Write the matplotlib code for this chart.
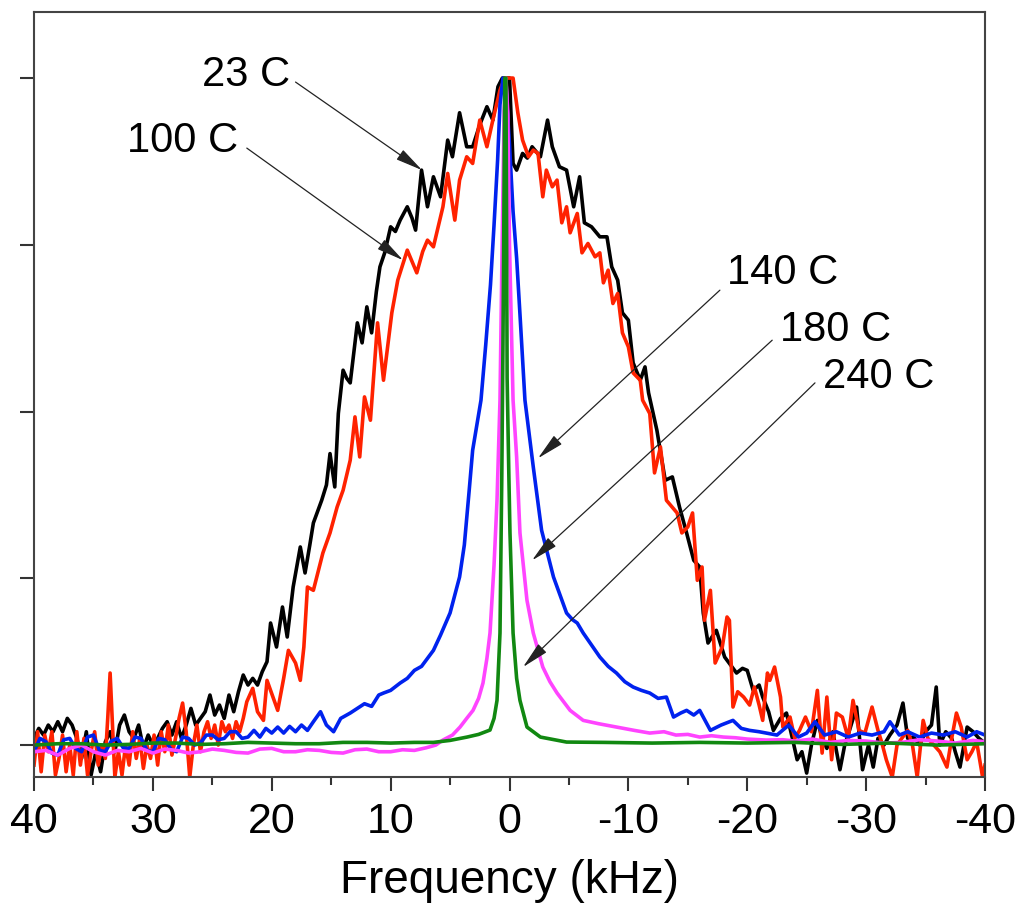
import numpy as np
from matplotlib import pyplot as plt

# espectros: (frequência kHz, intensidade normalizada)
black_pts = [
    (40.0, 0.010), (39.6, 0.025), (39.2, 0.015), (38.8, 0.030), (38.4, 0.020), (38.0, 0.035),
    (37.6, 0.020), (37.2, 0.040), (36.8, 0.030), (36.4, 0.010), (36.0, -0.020), (35.6, 0.020),
    (35.2, -0.045), (34.8, -0.010), (34.4, -0.040), (34.0, 0.005), (33.6, 0.020), (33.2, -0.010),
    (32.8, 0.030), (32.4, 0.045), (32.0, 0.020), (31.6, 0.010), (31.2, 0.030), (30.8, -0.005),
    (30.4, 0.015), (30.0, 0.000), (29.6, 0.010), (29.2, 0.025), (28.8, 0.035), (28.4, 0.015),
    (28.0, 0.035), (27.6, 0.010), (27.2, 0.030), (26.8, 0.055), (26.4, 0.030), (26.0, 0.040),
    (25.6, 0.050), (25.2, 0.075), (24.8, 0.045), (24.4, 0.060), (24.0, 0.040), (23.6, 0.075),
    (23.2, 0.050), (22.8, 0.080), (22.4, 0.105), (22.0, 0.090), (21.6, 0.100), (21.2, 0.090),
    (20.8, 0.110), (20.4, 0.125), (20.1, 0.183), (19.6, 0.147), (19.1, 0.207), (18.7, 0.162),
    (18.2, 0.237), (17.6, 0.297), (17.2, 0.258), (16.8, 0.300), (16.5, 0.333), (15.8, 0.367),
    (15.4, 0.390), (15.1, 0.437), (14.7, 0.387), (14.4, 0.497), (14.0, 0.562), (13.7, 0.550),
    (13.4, 0.543), (12.8, 0.633), (12.4, 0.603), (12.0, 0.657), (11.6, 0.618), (11.2, 0.680),
    (10.9, 0.717), (10.5, 0.738), (10.0, 0.777), (9.6, 0.770), (9.2, 0.787), (8.6, 0.807),
    (8.2, 0.790), (7.9, 0.772), (7.4, 0.862), (6.9, 0.807), (6.4, 0.852), (5.8, 0.822),
    (5.2, 0.907), (4.8, 0.882), (4.2, 0.948), (3.6, 0.897), (3.1, 0.897), (2.5, 0.930),
    (1.9, 0.957), (1.4, 0.937), (0.97, 0.987), (0.6, 1.000), (0.0, 1.000), (-0.3, 0.872),
    (-0.6, 0.862), (-1.1, 0.887), (-1.5, 0.880), (-1.9, 0.897), (-2.6, 0.882), (-3.2, 0.937),
    (-3.6, 0.897), (-4.2, 0.867), (-4.8, 0.862), (-5.4, 0.807), (-5.9, 0.852), (-6.3, 0.783),
    (-6.9, 0.777), (-7.6, 0.762), (-8.2, 0.762), (-8.6, 0.717), (-9.1, 0.697), (-9.5, 0.648),
    (-10.0, 0.637), (-10.4, 0.573), (-11.0, 0.547), (-11.4, 0.567), (-11.7, 0.528), (-12.4, 0.472),
    (-13.1, 0.397), (-13.7, 0.402), (-14.3, 0.357), (-14.9, 0.318), (-15.5, 0.277), (-16.0, 0.267),
    (-16.3, 0.198), (-16.7, 0.153), (-17.4, 0.172), (-18.1, 0.132), (-18.6, 0.120), (-19.1, 0.108),
    (-19.6, 0.115), (-20.0, 0.112), (-20.5, 0.082), (-21.0, 0.090), (-21.3, 0.072), (-21.8, 0.050),
    (-22.2, 0.022), (-22.8, 0.040), (-23.3, 0.048), (-23.8, 0.010), (-24.2, -0.022), (-24.6, -0.010),
    (-25.0, -0.042), (-25.4, 0.000), (-25.9, 0.037), (-26.3, 0.010), (-26.7, -0.005), (-27.2, 0.020),
    (-27.8, -0.037), (-28.2, 0.000), (-28.6, 0.022), (-29.2, 0.057), (-29.7, -0.037), (-30.2, 0.000),
    (-30.6, -0.033), (-31.0, 0.010), (-31.5, 0.000), (-32.0, 0.015), (-32.6, 0.030), (-33.1, 0.063),
    (-33.5, 0.010), (-34.0, 0.012), (-34.5, 0.000), (-35.0, 0.020), (-35.5, 0.030), (-35.9, 0.087),
    (-36.2, 0.000), (-36.7, 0.020), (-37.2, 0.010), (-37.5, -0.010), (-37.9, -0.033), (-38.5, 0.027),
    (-39.0, 0.020), (-39.5, 0.010), (-40.0, 0.003),
]

red_pts = [
    (40.0, -0.030), (39.7, 0.020), (39.4, -0.040), (39.1, 0.015), (38.8, -0.010), (38.5, 0.020),
    (38.2, -0.045), (37.9, -0.020), (37.6, 0.015), (37.3, -0.040), (37.0, 0.000), (36.7, -0.045),
    (36.4, 0.020), (36.1, -0.030), (35.8, 0.010), (35.5, -0.045), (35.2, -0.010), (34.9, 0.020),
    (34.6, -0.030), (34.3, 0.000), (34.0, -0.020), (33.8, 0.040), (33.6, 0.108), (33.4, 0.030),
    (33.2, -0.048), (32.9, -0.010), (32.6, -0.045), (32.3, 0.000), (32.0, -0.030), (31.7, 0.020),
    (31.4, -0.020), (31.1, 0.010), (30.8, -0.035), (30.5, 0.000), (30.2, -0.020), (29.9, 0.015),
    (29.6, -0.030), (29.3, 0.020), (29.0, -0.010), (28.7, 0.030), (28.4, -0.015), (28.1, 0.010),
    (27.8, 0.040), (27.5, 0.063), (27.2, 0.020), (26.9, -0.048), (26.6, 0.000), (26.3, 0.030),
    (26.0, -0.010), (25.7, 0.020), (25.4, 0.035), (25.1, 0.010), (24.8, 0.030), (24.5, 0.000),
    (24.2, 0.035), (23.9, 0.020), (23.6, 0.030), (23.3, 0.010), (23.0, 0.035), (22.7, 0.020),
    (22.4, 0.040), (22.1, 0.065), (21.6, 0.085), (21.2, 0.050), (20.7, 0.037), (20.4, 0.097),
    (19.9, 0.072), (19.5, 0.052), (19.0, 0.100), (18.6, 0.142), (18.0, 0.123), (17.6, 0.097),
    (17.3, 0.147), (17.0, 0.237), (16.5, 0.232), (16.1, 0.260), (15.7, 0.288), (15.1, 0.318),
    (14.5, 0.357), (14.0, 0.382), (13.4, 0.427), (13.0, 0.492), (12.6, 0.432), (12.2, 0.522),
    (11.7, 0.487), (11.4, 0.560), (11.1, 0.633), (10.6, 0.547), (9.9, 0.648), (9.4, 0.697),
    (8.6, 0.742), (7.8, 0.708), (7.3, 0.740), (6.9, 0.757), (6.4, 0.747), (5.6, 0.807),
    (5.2, 0.857), (4.6, 0.787), (4.2, 0.847), (3.6, 0.882), (3.1, 0.872), (2.5, 0.937),
    (1.9, 0.897), (1.4, 0.937), (0.8, 0.982), (0.4, 1.000), (-0.3, 1.000), (-0.7, 0.948),
    (-1.1, 0.907), (-1.6, 0.882), (-2.0, 0.892), (-2.4, 0.887), (-2.8, 0.822), (-3.1, 0.862),
    (-3.6, 0.837), (-4.0, 0.847), (-4.4, 0.783), (-4.8, 0.807), (-5.1, 0.768), (-5.7, 0.797),
    (-6.1, 0.738), (-6.6, 0.752), (-7.2, 0.732), (-7.6, 0.738), (-7.9, 0.693), (-8.3, 0.712),
    (-8.7, 0.662), (-9.1, 0.677), (-9.5, 0.618), (-10.0, 0.597), (-10.4, 0.558), (-11.0, 0.547),
    (-11.2, 0.517), (-11.8, 0.497), (-12.2, 0.408), (-12.7, 0.447), (-13.2, 0.367), (-14.1, 0.348),
    (-14.5, 0.318), (-15.0, 0.327), (-15.4, 0.348), (-15.8, 0.247), (-16.2, 0.267), (-16.4, 0.187),
    (-16.9, 0.232), (-17.3, 0.123), (-17.9, 0.147), (-18.3, 0.192), (-18.5, 0.187), (-18.8, 0.057),
    (-19.2, 0.080), (-19.7, 0.072), (-20.2, 0.060), (-20.6, 0.087), (-21.0, 0.060), (-21.3, 0.037),
    (-21.7, 0.108), (-21.9, 0.097), (-22.3, 0.117), (-22.8, 0.072), (-23.0, 0.027), (-23.6, 0.042),
    (-24.0, 0.010), (-24.4, 0.022), (-24.9, 0.042), (-25.4, 0.020), (-25.9, 0.082), (-26.3, -0.012),
    (-26.7, 0.072), (-27.1, -0.022), (-27.5, 0.048), (-28.0, 0.042), (-28.5, 0.010), (-28.9, 0.067),
    (-29.4, 0.022), (-29.9, 0.018), (-30.5, 0.057), (-31.0, 0.022), (-31.3, 0.005), (-31.7, -0.022),
    (-32.2, -0.048), (-32.6, 0.000), (-33.0, 0.010), (-33.5, 0.022), (-33.9, 0.000), (-34.3, -0.048),
    (-34.8, 0.037), (-35.2, 0.010), (-35.7, 0.000), (-36.2, -0.010), (-36.8, -0.033), (-37.2, 0.010),
    (-37.6, 0.048), (-38.0, 0.027), (-38.5, -0.022), (-38.9, -0.010), (-39.3, 0.005), (-39.8, -0.048),
    (-40.0, -0.030),
]

blue_pts = [
    (40.0, -0.010), (39.5, 0.010), (39.0, 0.005), (38.5, -0.012), (38.0, -0.015), (37.5, 0.008),
    (37.0, 0.010), (36.5, -0.005), (36.0, -0.010), (35.5, 0.012), (35.0, 0.015), (34.5, -0.008),
    (34.0, -0.010), (33.5, 0.006), (33.0, 0.010), (32.5, -0.004), (32.0, -0.005), (31.5, 0.012),
    (31.0, 0.010), (30.5, -0.008), (30.0, -0.010), (29.5, 0.010), (29.0, 0.008), (28.5, -0.006),
    (28.0, -0.010), (27.5, 0.012), (27.0, 0.010), (26.5, 0.000), (26.0, 0.003), (25.5, 0.015),
    (25.0, 0.015), (24.5, 0.008), (24.0, 0.010), (23.5, 0.020), (23.0, 0.020), (22.5, 0.010),
    (22.0, 0.012), (21.5, 0.022), (21.0, 0.012), (20.5, 0.025), (20.0, 0.018), (19.5, 0.027),
    (19.0, 0.018), (18.5, 0.028), (18.0, 0.020), (17.5, 0.030), (17.0, 0.022), (16.5, 0.035),
    (15.9, 0.050), (15.4, 0.030), (14.8, 0.020), (14.2, 0.040), (13.4, 0.048), (12.8, 0.055),
    (12.2, 0.062), (11.6, 0.058), (11.0, 0.075), (10.6, 0.078), (10.0, 0.082), (9.2, 0.093),
    (8.6, 0.100), (8.0, 0.112), (7.4, 0.118), (6.9, 0.130), (6.4, 0.142), (5.8, 0.165),
    (5.0, 0.198), (4.6, 0.225), (4.2, 0.252), (3.8, 0.300), (3.4, 0.380), (3.1, 0.442),
    (2.7, 0.485), (2.4, 0.517), (2.0, 0.600), (1.6, 0.690), (1.3, 0.780), (1.0, 0.877),
    (0.8, 0.960), (0.55, 1.000), (0.3, 0.985), (0.0, 0.900), (-0.3, 0.800), (-0.6, 0.730),
    (-0.9, 0.640), (-1.3, 0.517), (-2.0, 0.417), (-2.7, 0.322), (-3.7, 0.252), (-4.8, 0.198),
    (-5.3, 0.188), (-5.7, 0.183), (-6.2, 0.168), (-6.9, 0.150), (-7.6, 0.132), (-8.3, 0.118),
    (-9.0, 0.108), (-9.7, 0.095), (-10.4, 0.087), (-11.1, 0.082), (-11.8, 0.078), (-12.5, 0.070),
    (-13.2, 0.072), (-13.8, 0.042), (-14.4, 0.048), (-14.9, 0.052), (-15.5, 0.045), (-16.0, 0.052),
    (-16.9, 0.022), (-17.8, 0.030), (-18.8, 0.037), (-19.5, 0.025), (-20.2, 0.022), (-21.0, 0.020),
    (-21.6, 0.018), (-22.5, 0.015), (-23.5, 0.030), (-24.3, 0.012), (-25.0, 0.018), (-25.7, 0.035),
    (-26.5, 0.015), (-27.5, 0.020), (-28.5, 0.012), (-29.5, 0.018), (-30.5, 0.015), (-31.5, 0.020),
    (-32.0, 0.035), (-32.8, 0.015), (-33.5, 0.020), (-34.5, 0.012), (-35.5, 0.018), (-36.5, 0.015),
    (-37.5, 0.020), (-38.5, 0.012), (-39.3, 0.020), (-40.0, 0.015),
]

magenta_pts = [
    (40.0, -0.010), (39.0, -0.008), (38.0, -0.015), (37.0, -0.005), (36.0, 0.000), (35.0, -0.010),
    (34.0, -0.015), (33.0, -0.008), (32.0, -0.010), (31.0, -0.005), (30.0, -0.012), (29.0, -0.006),
    (28.0, -0.008), (27.0, -0.012), (26.0, -0.010), (25.0, -0.006), (24.0, -0.008), (23.0, -0.011),
    (22.0, -0.012), (21.0, -0.006), (20.0, -0.005), (19.0, -0.010), (18.0, -0.010), (17.0, -0.007),
    (16.0, -0.008), (15.0, -0.011), (14.0, -0.012), (13.0, -0.007), (12.0, -0.006), (11.0, -0.010),
    (10.0, -0.010), (9.0, -0.007), (8.0, -0.008), (7.0, -0.004), (6.2, 0.000), (5.6, 0.0075),
    (4.8, 0.015), (4.16, 0.027), (3.6, 0.040), (3.07, 0.052), (2.6, 0.070), (2.23, 0.093),
    (1.9, 0.130), (1.64, 0.168), (1.3, 0.270), (1.05, 0.367), (0.8, 0.517), (0.62, 0.750),
    (0.45, 0.950), (0.3, 1.000), (0.15, 0.950), (0.0, 0.750), (-0.3, 0.517), (-0.6, 0.432),
    (-0.88, 0.318), (-1.47, 0.217), (-2.0, 0.168), (-2.8, 0.117), (-3.4, 0.095), (-4.0, 0.078),
    (-5.1, 0.052), (-6.2, 0.037), (-7.5, 0.032), (-9.0, 0.027), (-10.5, 0.022), (-11.8, 0.018),
    (-13.0, 0.020), (-14.0, 0.015), (-15.0, 0.016), (-16.0, 0.012), (-17.0, 0.014), (-18.0, 0.012),
    (-19.0, 0.011), (-20.0, 0.009), (-21.6, 0.0075), (-23.0, 0.008), (-24.0, 0.006), (-25.5, 0.009),
    (-27.0, 0.004), (-28.5, 0.007), (-30.0, 0.006), (-31.5, 0.003), (-33.0, 0.004), (-34.5, 0.008),
    (-36.0, 0.006), (-37.5, 0.003), (-39.0, 0.007), (-40.0, 0.005),
]

green_pts = [
    (40.0, 0.000), (38.0, 0.002), (36.0, 0.002), (34.0, 0.000), (32.0, 0.001), (30.0, 0.003),
    (28.0, 0.003), (26.0, 0.001), (24.0, 0.002), (22.0, 0.004), (20.0, 0.003), (18.0, 0.002),
    (16.0, 0.002), (14.0, 0.004), (12.0, 0.004), (10.0, 0.003), (8.0, 0.004), (6.4, 0.004),
    (5.0, 0.007), (3.57, 0.012), (2.6, 0.016), (1.64, 0.0225), (1.3, 0.040), (1.05, 0.067),
    (0.8, 0.168), (0.65, 0.400), (0.55, 0.600), (0.45, 0.850), (0.4, 1.000), (0.3, 1.000),
    (0.25, 0.800), (0.2, 0.550), (0.05, 0.400), (-0.04, 0.318), (-0.3, 0.168), (-0.6, 0.100),
    (-0.88, 0.067), (-1.47, 0.027), (-2.6, 0.012), (-4.8, 0.0045), (-8.0, 0.004), (-12.0, 0.003),
    (-16.0, 0.004), (-20.0, 0.003), (-24.0, 0.004), (-28.0, 0.001), (-32.0, 0.003), (-36.0, 0.000),
    (-40.0, 0.002),
]

series = [
    (black_pts, "#000000"),
    (red_pts, "#ff2200"),
    (blue_pts, "#0022ee"),
    (magenta_pts, "#ff44ff"),
    (green_pts, "#118811"),
]

# rótulos das temperaturas
labels = ["23 C", "100 C", "140 C", "180 C", "240 C"]

plt.rcParams['font.family'] = ['Liberation Sans', 'DejaVu Sans']

fig = plt.figure(figsize=(10.19, 9.11), dpi=100)
ax = fig.add_axes([0.0334, 0.147, 0.9332, 0.8398])

for pts, color in series:
    xs, ys = zip(*pts)
    ax.plot(xs, ys, color=color, lw=2.6, solid_joinstyle='round')

ax.set_xlim(40, -40)
ax.set_ylim(-0.048, 1.099)

ax.set_xticks(np.arange(40, -41, -10))
ax.set_xticks(np.arange(35, -40, -10), minor=True)
ax.set_xticklabels([str(v) for v in range(40, -41, -10)])
ax.set_yticks([0, 0.25, 0.5, 0.75, 1.0])
ax.set_yticklabels([])

ax.tick_params(axis='x', which='major', direction='out', length=10, width=1.5,
               labelsize=31, pad=8, color='#333333')
ax.tick_params(axis='x', which='minor', direction='out', length=6, width=1.5, color='#333333')
ax.tick_params(axis='y', direction='out', length=10, width=1.5, color='#333333')

for sp in ax.spines.values():
    sp.set_linewidth(1.5)
    sp.set_color('#444444')

ax.set_xlabel("Frequency (kHz)", fontsize=33, labelpad=12)

# anotações: texto, posição do texto, alinhamento, início e ponta da seta
texts = [
    (labels[0], (18.46, 1.0045), 'right', (18.0, 0.994), (7.36, 0.862)),
    (labels[1], (22.8, 0.9055), 'right', (22.1, 0.895), (8.96, 0.727)),
    (labels[2], (-18.3, 0.7076), 'left', (-17.7, 0.682), (-2.4, 0.430)),
    (labels[3], (-22.75, 0.622), 'left', (-22.1, 0.607), (-1.9, 0.277)),
    (labels[4], (-26.4, 0.552), 'left', (-25.7, 0.543), (-1.14, 0.117)),
]
for txt, pos, ha, start, tip in texts:
    ax.text(pos[0], pos[1], txt, fontsize=30, ha=ha, va='center')
    ax.annotate('', xy=tip, xytext=start,
                arrowprops=dict(arrowstyle='-|>,head_length=1.4,head_width=0.3',
                                color='#222222', lw=0.9, mutation_scale=12,
                                shrinkA=0, shrinkB=0))

fig.savefig("out.png", dpi=100)
